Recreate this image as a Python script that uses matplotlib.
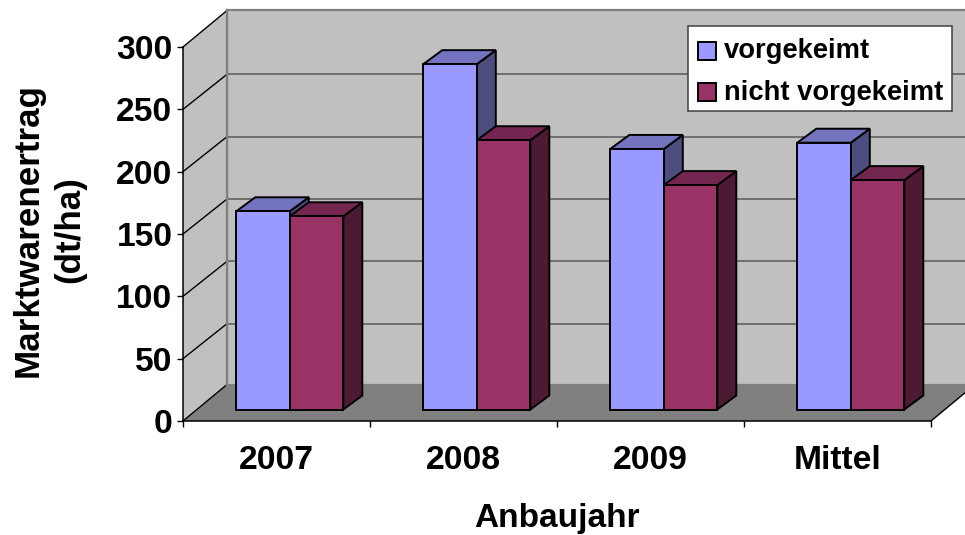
import matplotlib
matplotlib.use('Agg')
import matplotlib.pyplot as plt
from matplotlib.patches import Polygon, Rectangle

plt.rcParams['font.family'] = ['Liberation Sans', 'DejaVu Sans']
plt.rcParams['font.weight'] = 'bold'

# --- Daten --- #
categories = ['2007', '2008', '2009', 'Mittel']
vorgekeimt = [159, 277, 209, 214]
nicht_vorgekeimt = [155, 216, 180, 184]
yticks = [0, 50, 100, 150, 200, 250, 300]
series_names = ['vorgekeimt', 'nicht vorgekeimt']

# --- Farben --- #
blue, blue_top, blue_side = '#9999FF', '#7373BF', '#4D4D80'
red, red_top, red_side = '#993366', '#732650', '#4D1A33'

W, H = 965, 535
fig = plt.figure(figsize=(W / 100, H / 100), dpi=100)
# Vorderkante der Achsen in Pixeln: x 183-931, y 421-47
ax = fig.add_axes([183 / W, 1 - 421 / H, 748 / W, 374 / H])
ax.set_xlim(0, 4)
ax.set_ylim(0, 300)

px_x = 4 / 748
px_y = 300 / 374
wall_dx, wall_dy = 44 * px_x, 36.5 * px_y
grid_dy = 35 * px_y
bar_dx, bar_dy = 19 * px_x, 14 * px_y
base_dx, base_dy = 14 * px_x, 11.5 * px_y
bar_w = 53.5 * px_x
bar_start = 39.3 * px_x


def poly(pts, fc, ec='none', lw=0, z=1):
    ax.add_patch(Polygon(pts, closed=True, facecolor=fc, edgecolor=ec,
                         linewidth=lw, zorder=z, clip_on=False, joinstyle='miter'))


# --- Wände und Boden --- #
poly([(wall_dx, wall_dy), (4 + wall_dx, wall_dy), (4 + wall_dx, 300 + wall_dy), (wall_dx, 300 + wall_dy)],
     '#C0C0C0', '#808080', 1.6)
poly([(0, 0), (wall_dx, wall_dy), (wall_dx, 300 + wall_dy), (0, 300)], '#C0C0C0')
poly([(0, 0), (4, 0), (4 + wall_dx, wall_dy), (wall_dx, wall_dy)], '#808080')
ax.plot([4, 4 + wall_dx], [0, wall_dy], color='black', lw=1, clip_on=False, zorder=1.5)

# --- Gitterlinien --- #
for v in yticks:
    end = wall_dy if v in (0, 300) else grid_dy
    ax.plot([0, wall_dx], [v, v + end], color='black', lw=1, clip_on=False, zorder=1.5)
    if 0 < v < 300:
        ax.plot([wall_dx, 4 + wall_dx], [v + grid_dy, v + grid_dy], color='#595959', lw=1.1,
                clip_on=False, zorder=1.5)
ax.plot([wall_dx, wall_dx], [wall_dy, 300 + wall_dy], color='#808080', lw=1.6, clip_on=False, zorder=1.6)


# --- Balken --- #
def draw_bars(values, offset, fc, top, side, z):
    for i, v in enumerate(values):
        x0 = i + bar_start + offset * bar_w + base_dx
        x1 = x0 + bar_w
        y0 = base_dy
        y1 = v + base_dy
        poly([(x1, y0), (x1 + bar_dx, y0 + bar_dy), (x1 + bar_dx, y1 + bar_dy), (x1, y1)],
             side, 'black', 1.4, z)
        poly([(x0, y1), (x1, y1), (x1 + bar_dx, y1 + bar_dy), (x0 + bar_dx, y1 + bar_dy)],
             top, 'black', 1.4, z)
    xs = [i + bar_start + offset * bar_w + base_dx for i in range(len(values))]
    ax.bar(xs, values, width=bar_w, bottom=base_dy, align='edge', color=fc,
           edgecolor='black', linewidth=1.4, zorder=z + 0.1, clip_on=False)


draw_bars(vorgekeimt, 0, blue, blue_top, blue_side, 3)
draw_bars(nicht_vorgekeimt, 1, red, red_top, red_side, 4)

# --- Achsen --- #
for s in ['top', 'right']:
    ax.spines[s].set_visible(False)
for s in ['left', 'bottom']:
    ax.spines[s].set_linewidth(1.1)
    ax.spines[s].set_zorder(6)
ax.set_yticks(yticks)
ax.set_yticklabels([str(v) for v in yticks], fontsize=24.2)
ax.set_xticks(range(5))
ax.set_xticklabels([])
ax.set_xticks([i + 0.5 for i in range(4)], categories, minor=True, fontsize=24.2)
ax.tick_params(axis='x', which='major', length=4.6, width=1)
ax.tick_params(axis='x', which='minor', length=0, pad=17.5)
ax.tick_params(axis='y', length=4.6, width=1, pad=3)
ax.patch.set_visible(False)

# --- Achsentitel --- #
fig.text(557 / W, 1 - 527 / H, 'Anbaujahr', ha='center', va='baseline', fontsize=24)
fig.text(49 / W, 1 - 230 / H, 'Marktwarenertrag\n(dt/ha)', ha='center', va='center',
         rotation=90, fontsize=25.2, linespacing=1.3, multialignment='center')

# --- Legende --- #
tf = fig.transFigure
ax.add_patch(Rectangle((688 / W, 1 - 110.5 / H), 264 / W, 84.5 / H, transform=tf, facecolor='white',
                       edgecolor='#404040', linewidth=1.1, zorder=10, clip_on=False))
for name, fc, box_y, base_y in zip(series_names, [blue, red], [59.7, 101], [58, 99.5]):
    ax.add_patch(Rectangle((698 / W, 1 - box_y / H), 18 / W, 18 / H, transform=tf, facecolor=fc,
                           edgecolor='black', linewidth=1.4, zorder=11, clip_on=False))
    ax.text(723.5 / W, 1 - base_y / H, name, transform=tf, fontsize=19.7, va='baseline', zorder=11)

fig.savefig('out.png', dpi=100)
